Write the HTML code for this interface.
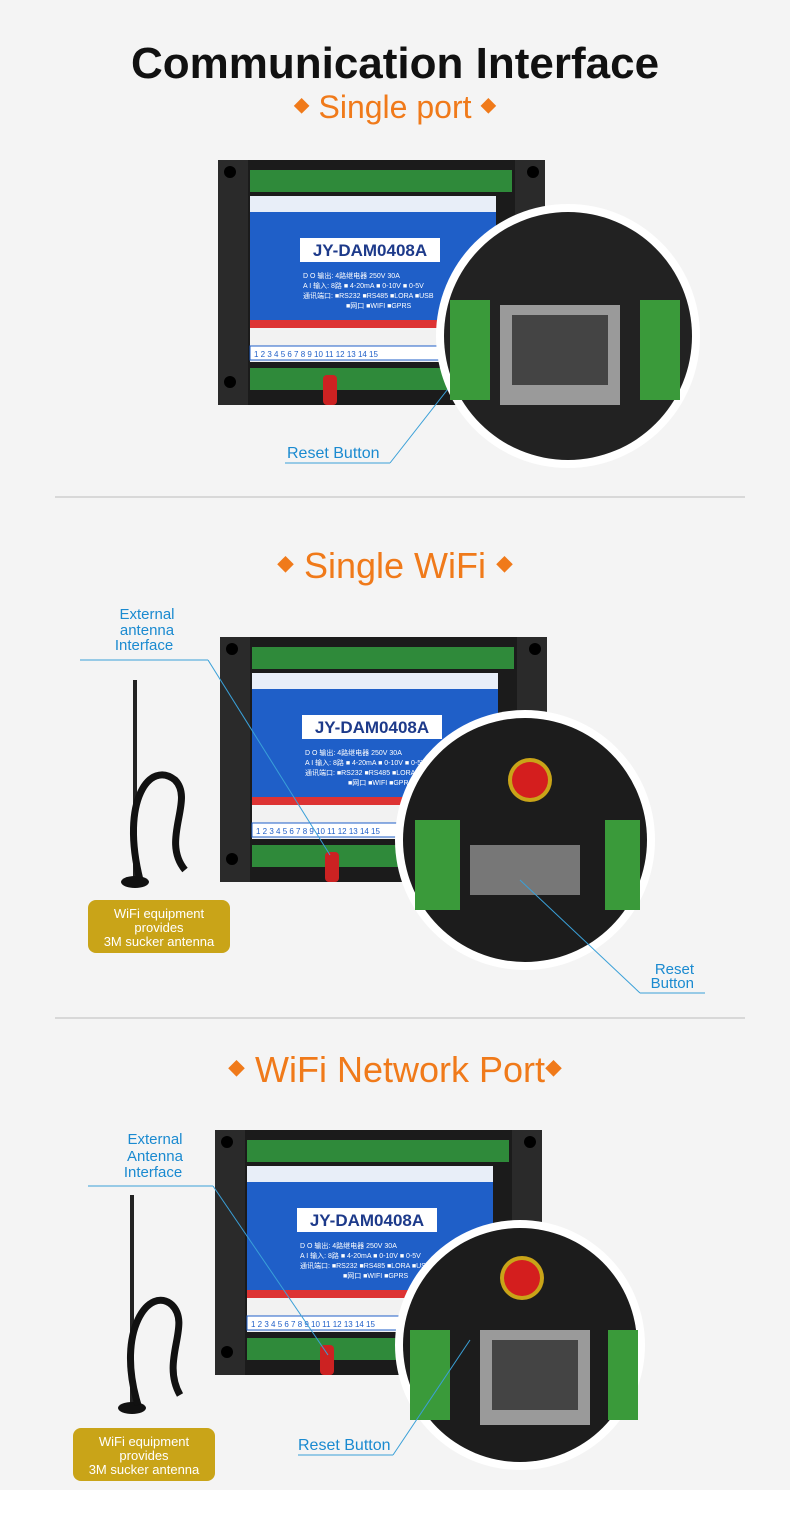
<!DOCTYPE html>
<html><head><meta charset="utf-8"><style>
body{margin:0;width:790px;height:1522px;background:#fff;font-family:"Liberation Sans","Noto Sans CJK SC",sans-serif;}
svg{display:block}
</style></head><body>
<svg width="790" height="1522" viewBox="0 0 790 1522" xmlns="http://www.w3.org/2000/svg" font-family="Liberation Sans, Noto Sans CJK SC, sans-serif">
<defs>
<g id="dev">
 <rect x="0" y="0" width="327" height="245" fill="#1b1b1b"/>
 <rect x="0" y="0" width="30" height="245" fill="#2a2a2a"/>
 <rect x="297" y="0" width="30" height="245" fill="#2a2a2a"/>
 <circle cx="12" cy="12" r="6" fill="#000"/><circle cx="315" cy="12" r="6" fill="#000"/>
 <circle cx="12" cy="222" r="6" fill="#000"/><circle cx="315" cy="222" r="6" fill="#000"/>
 <rect x="32" y="10" width="262" height="22" fill="#2f8a3a"/>
 <rect x="32" y="208" width="262" height="22" fill="#2f8a3a"/>
 <rect x="32" y="36" width="246" height="150" fill="#1f5fc8"/>
 <rect x="32" y="36" width="246" height="16" fill="#e8eef8"/>
 <rect x="82" y="78" width="140" height="24" fill="#fff"/>
 <text x="152" y="96" font-size="17" font-weight="bold" fill="#1d3a8a" text-anchor="middle">JY-DAM0408A</text>
 <text x="85" y="118" font-size="7" fill="#fff">D O 输出: 4路继电器 250V 30A</text>
 <text x="85" y="128" font-size="7" fill="#fff">A I 输入: 8路 ■ 4-20mA ■ 0-10V ■ 0-5V</text>
 <text x="85" y="138" font-size="7" fill="#fff">通讯端口: ■RS232 ■RS485 ■LORA ■USB</text>
 <text x="128" y="148" font-size="7" fill="#fff">■网口 ■WIFI ■GPRS</text>
 <rect x="32" y="160" width="246" height="8" fill="#d33"/>
 <rect x="32" y="168" width="246" height="34" fill="#f2f2f2"/>
 <rect x="32" y="186" width="210" height="14" fill="#fff" stroke="#1f5fc8"/>
 <text x="36" y="197" font-size="8" fill="#1f5fc8">1 2 3 4 5 6 7 8 9 10 11 12 13 14 15</text>
 <rect x="105" y="215" width="14" height="30" fill="#c22" rx="4"/>
</g>
</defs>
<rect x="0" y="0" width="790" height="1490" fill="#f4f4f4"/>
<text x="395" y="78" font-size="44" font-weight="bold" fill="#111" text-anchor="middle">Communication Interface</text>
<text x="395" y="118" font-size="32" fill="#f07a1a" text-anchor="middle"><tspan font-size="16" dy="-6">◆</tspan><tspan dy="6"> Single port </tspan><tspan font-size="16" dy="-6">◆</tspan></text>
<use href="#dev" x="218" y="160"/>
<line x1="390" y1="463" x2="455" y2="380" stroke="#3aa0d8"/>
<line x1="285" y1="463" x2="390" y2="463" stroke="#3aa0d8"/>
<text x="287" y="458" font-size="16" fill="#1a8ad0">Reset Button</text>
<circle cx="568" cy="336" r="132" fill="#fff"/>
<circle cx="568" cy="336" r="124" fill="#222"/>
<rect x="500" y="305" width="120" height="100" fill="#9a9a9a"/><rect x="512" y="315" width="96" height="70" fill="#444"/>
<rect x="450" y="300" width="40" height="100" fill="#3a9a3a"/><rect x="640" y="300" width="40" height="100" fill="#3a9a3a"/>
<line x1="55" y1="497" x2="745" y2="497" stroke="#bbb"/>

<text x="395" y="578" font-size="36" fill="#f07a1a" text-anchor="middle"><tspan font-size="17" dy="-7">◆</tspan><tspan dy="7"> Single WiFi </tspan><tspan font-size="17" dy="-7">◆</tspan></text>
<use href="#dev" x="220" y="637"/>
<text x="147" y="619" font-size="15" fill="#1a8ad0" text-anchor="middle">External</text>
<text x="147" y="635" font-size="15" fill="#1a8ad0" text-anchor="middle">antenna</text>
<text x="144" y="650" font-size="15" fill="#1a8ad0" text-anchor="middle">Interface</text>
<line x1="80" y1="660" x2="208" y2="660" stroke="#3aa0d8"/><line x1="208" y1="660" x2="330" y2="855" stroke="#3aa0d8"/>
<line x1="135" y1="680" x2="135" y2="880" stroke="#222" stroke-width="4"/>
<ellipse cx="135" cy="882" rx="14" ry="6" fill="#111"/>
<path d="M140 880 C120 800 150 760 175 780 C195 800 160 840 185 870" stroke="#111" stroke-width="7" fill="none"/>
<rect x="88" y="900" width="142" height="53" rx="8" fill="#c9a418"/>
<text x="159" y="918" font-size="13" fill="#fff" text-anchor="middle">WiFi equipment</text>
<text x="159" y="932" font-size="13" fill="#fff" text-anchor="middle">provides</text>
<text x="159" y="946" font-size="13" fill="#fff" text-anchor="middle">3M sucker antenna</text>
<circle cx="525" cy="840" r="130" fill="#fff"/>
<circle cx="525" cy="840" r="122" fill="#1c1c1c"/>
<circle cx="530" cy="780" r="22" fill="#c9a418"/><circle cx="530" cy="780" r="18" fill="#d41e1e"/>
<rect x="470" y="845" width="110" height="50" fill="#777"/>
<rect x="415" y="820" width="45" height="90" fill="#3a9a3a"/><rect x="605" y="820" width="35" height="90" fill="#3a9a3a"/>
<line x1="520" y1="880" x2="640" y2="993" stroke="#3aa0d8"/><line x1="640" y1="993" x2="705" y2="993" stroke="#3aa0d8"/>
<text x="694" y="974" font-size="15" fill="#1a8ad0" text-anchor="end">Reset</text>
<text x="694" y="988" font-size="15" fill="#1a8ad0" text-anchor="end">Button</text>
<line x1="55" y1="1018" x2="745" y2="1018" stroke="#bbb"/>

<text x="395" y="1082" font-size="36" fill="#f07a1a" text-anchor="middle"><tspan font-size="17" dy="-7">◆</tspan><tspan dy="7"> WiFi Network Port</tspan><tspan font-size="17" dy="-7">◆</tspan></text>
<use href="#dev" x="215" y="1130"/>
<text x="155" y="1144" font-size="15" fill="#1a8ad0" text-anchor="middle">External</text>
<text x="155" y="1161" font-size="15" fill="#1a8ad0" text-anchor="middle">Antenna</text>
<text x="153" y="1177" font-size="15" fill="#1a8ad0" text-anchor="middle">Interface</text>
<line x1="88" y1="1186" x2="213" y2="1186" stroke="#3aa0d8"/><line x1="213" y1="1186" x2="328" y2="1355" stroke="#3aa0d8"/>
<line x1="132" y1="1195" x2="132" y2="1405" stroke="#222" stroke-width="4"/>
<ellipse cx="132" cy="1408" rx="14" ry="6" fill="#111"/>
<path d="M138 1405 C115 1330 150 1285 172 1305 C192 1325 160 1360 180 1395" stroke="#111" stroke-width="7" fill="none"/>
<rect x="73" y="1428" width="142" height="53" rx="8" fill="#c9a418"/>
<text x="144" y="1446" font-size="13" fill="#fff" text-anchor="middle">WiFi equipment</text>
<text x="144" y="1460" font-size="13" fill="#fff" text-anchor="middle">provides</text>
<text x="144" y="1474" font-size="13" fill="#fff" text-anchor="middle">3M sucker antenna</text>
<circle cx="520" cy="1345" r="125" fill="#fff"/>
<circle cx="520" cy="1345" r="117" fill="#1c1c1c"/>
<circle cx="522" cy="1278" r="22" fill="#c9a418"/><circle cx="522" cy="1278" r="18" fill="#d41e1e"/>
<rect x="480" y="1330" width="110" height="95" fill="#9a9a9a"/><rect x="492" y="1340" width="86" height="70" fill="#444"/>
<rect x="410" y="1330" width="40" height="90" fill="#3a9a3a"/><rect x="608" y="1330" width="30" height="90" fill="#3a9a3a"/>
<line x1="393" y1="1455" x2="470" y2="1340" stroke="#3aa0d8"/><line x1="298" y1="1455" x2="393" y2="1455" stroke="#3aa0d8"/>
<text x="298" y="1450" font-size="16" fill="#1a8ad0">Reset Button</text>
</svg>
</body></html>
